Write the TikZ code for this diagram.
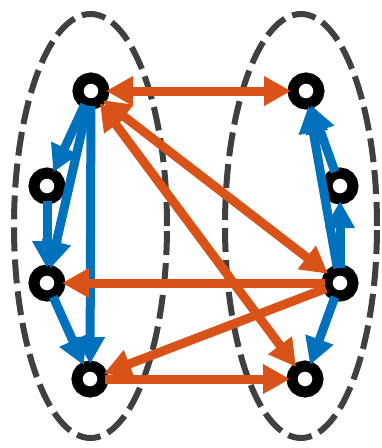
\documentclass[tikz,border=0pt]{standalone}
\usetikzlibrary{arrows.meta}
\definecolor{arcblue}{HTML}{0072BD}
\definecolor{arcorange}{HTML}{D95319}
\definecolor{groupgray}{HTML}{404040}
\tikzset{
  vtx/.style={circle,draw=black,fill=white,line width=11pt,minimum size=26pt,inner sep=0pt,outer sep=2pt},
  head/.tip={Triangle[length=27pt,width=28pt]},
  samearc/.style={draw=arcblue,line width=9pt,-head},
  crossarc/.style={draw=arcorange,line width=9pt,-head},
  crossboth/.style={draw=arcorange,line width=9pt,head-head},
  group/.style={draw=groupgray,line width=6pt,dash pattern=on 24pt off 8pt}
}
\begin{document}
\begin{tikzpicture}[x=1pt,y=-1pt]
			\useasboundingbox (0,0) rectangle (381,448);
			% the two groups
			\draw[group] (90.5,226) ellipse [x radius=76.5pt, y radius=212pt];
			\draw[group] (301,226) ellipse [x radius=76pt, y radius=212pt];
			% left vertices
			\node[vtx] (a1) at (91,91) {};
			\node[vtx] (a2) at (47,186) {};
			\node[vtx] (a3) at (47,283) {};
			\node[vtx] (a4) at (90,379) {};
			% right vertices
			\node[vtx] (b1) at (306,91) {};
			\node[vtx] (b2) at (340,186) {};
			\node[vtx] (b3) at (340,283) {};
			\node[vtx] (b4) at (305,379) {};
			% arcs inside a group
			\draw[samearc] (a1) -- (a2);
			\draw[samearc] (a1) -- (a3);
			\draw[samearc] (a1) -- (a4);
			\draw[samearc] (a2) -- (a3);
			\draw[samearc] (a3) -- (a4);
			\draw[samearc] (b2) -- (b1);
			\draw[samearc] (b3) -- (b1);
			\draw[samearc] (b3) -- (b2);
			\draw[samearc] (b3) -- (b4);
			% arcs between the groups
			\draw[crossboth] (a1) -- (b1);
			\draw[crossboth] (a1) -- (b3);
			\draw[crossboth] (a1) -- (b4);
			\draw[crossarc] (b3) -- (a3);
			\draw[crossarc] (b3) -- (a4);
			\draw[crossarc] (a4) -- (b4);
\end{tikzpicture}
\end{document}
